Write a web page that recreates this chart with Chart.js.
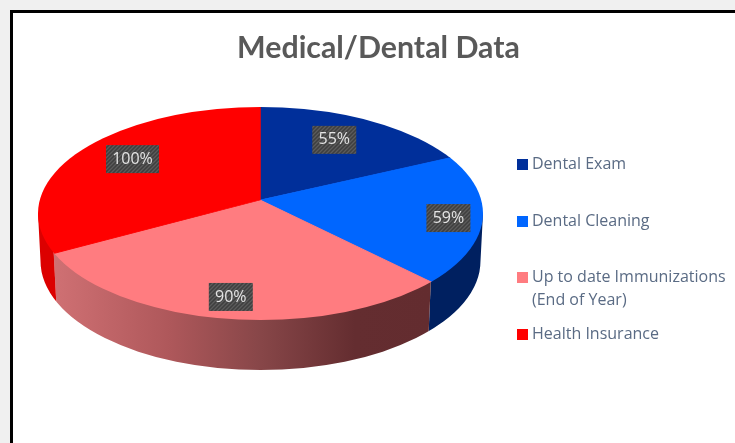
<!DOCTYPE html>
<html>
<head>
<meta charset="utf-8">
<title>Medical/Dental Data</title>
<script src="https://cdn.jsdelivr.net/npm/chart.js@4"></script>
<style>
  html, body { margin: 0; padding: 0; background: #f0f0f0; overflow: hidden; }
  #marco { position: absolute; left: 10px; top: 10px; width: 800px; height: 600px; background: #fff; border: 3px solid #000; }
  #grafica { position: absolute; left: 0; top: 0; filter: blur(0.45px); }
</style>
</head>
<body>
<div id="marco"></div>
<canvas id="grafica" width="735" height="443"></canvas>
<script>
const categories = ["Dental Exam", "Dental Cleaning", ["Up to date Immunizations", "(End of Year)"], "Health Insurance"];
const percents = [55, 59, 90, 100];
const topColors = ["#002f9a", "#0066ff", "#ff7c80", "#ff0000"];

// look of the tilted pie
const apex = { x: 260, y: 200 };
const topFace = { x: 260.5, y: 213.5, rx: 222.5, ry: 106.5 };
const bottomFace = { x: 260.5, y: 261, rx: 220, ry: 109 };
const labelSpots = [[0.62, 0.67], [0.86, 0.97], [0.91, 0.92], [0.667, 0.75]];
const legendRows = [164.5, 221.5, 277.5, 334.5];

function rimPoint(a) {
    const d = (topFace.y - apex.y) / topFace.ry;
    const s = Math.sin(a), c = Math.cos(a);
    const t = d * s + Math.sqrt(d * d * s * s - d * d + 1);
    return { x: apex.x + topFace.rx * c * t, y: apex.y + topFace.ry * s * t };
}

function wallFill(ctx, i) {
    if (i === 0) return "#002060";
    if (i === 1) return "#002060";
    if (i === 3) return "#dc0000";
    const g = ctx.createLinearGradient(55, 0, 430, 0);
    g.addColorStop(0, "#cf7073");
    g.addColorStop(0.3, "#af585b");
    g.addColorStop(0.55, "#874648");
    g.addColorStop(0.8, "#642d30");
    g.addColorStop(1, "#632c2f");
    return g;
}

function drawWalls(ctx, arcs) {
    arcs.forEach((arc, i) => {
        if (arc.endAngle <= 0 || arc.startAngle >= Math.PI) return;
        // edges of the visible wall, they lean a little inward going down
        const right = arc.startAngle <= 0 ? null : rimPoint(arc.startAngle);
        const left = arc.endAngle >= Math.PI ? null : rimPoint(arc.endAngle);
        const edge = (p, fallback) => {
            if (!p) return [[fallback, 0], [fallback, 443]];
            const lean = (p.x - topFace.x) * 0.012 / 48;
            return [[p.x + lean * p.y, 0], [p.x - lean * (443 - p.y), 443]];
        };
        const r = edge(right, 735), l = edge(left, 0);
        ctx.save();
        ctx.beginPath();
        ctx.moveTo(r[0][0], r[0][1]);
        ctx.lineTo(r[1][0], r[1][1]);
        ctx.lineTo(l[1][0], l[1][1]);
        ctx.lineTo(l[0][0], l[0][1]);
        ctx.closePath();
        ctx.clip();
        ctx.beginPath();
        ctx.moveTo(topFace.x + topFace.rx, topFace.y);
        ctx.lineTo(bottomFace.x + bottomFace.rx, bottomFace.y);
        ctx.ellipse(bottomFace.x, bottomFace.y, bottomFace.rx, bottomFace.ry, 0, 0, Math.PI);
        ctx.lineTo(topFace.x - topFace.rx, topFace.y);
        ctx.closePath();
        ctx.fillStyle = wallFill(ctx, i);
        ctx.fill();
        ctx.restore();
    });
}

function hatch(ctx) {
    const c = document.createElement("canvas");
    c.width = c.height = 4;
    const p = c.getContext("2d");
    p.fillStyle = "#3f3f3f";
    p.fillRect(0, 0, 4, 4);
    p.strokeStyle = "#5c5c5c";
    p.lineWidth = 1.3;
    p.beginPath();
    p.moveTo(-1, 1); p.lineTo(1, -1);
    p.moveTo(-1, 5); p.lineTo(5, -1);
    p.moveTo(3, 5); p.lineTo(5, 3);
    p.stroke();
    return ctx.createPattern(c, "repeat");
}

const pie3d = {
    id: "pie3d",
    beforeDatasetsDraw(chart) {
        const ctx = chart.ctx;
        const arcs = chart.getDatasetMeta(0).data;
        drawWalls(ctx, arcs);
        // the flat pie gets squashed onto the top face, apex off-centre
        const k = 1.25 / arcs[0].outerRadius;
        ctx.save();
        ctx.beginPath();
        ctx.ellipse(topFace.x, topFace.y, topFace.rx, topFace.ry, 0, 0, Math.PI * 2);
        ctx.clip();
        ctx.translate(apex.x, apex.y);
        ctx.scale(topFace.rx * k, topFace.ry * k);
        ctx.translate(-arcs[0].x, -arcs[0].y);
    },
    afterDatasetsDraw(chart) {
        const ctx = chart.ctx;
        ctx.restore();
        const arcs = chart.getDatasetMeta(0).data;

        // value labels
        const fill = hatch(ctx);
        ctx.font = '16px "Open Sans"';
        ctx.textAlign = "center";
        ctx.textBaseline = "middle";
        arcs.forEach((arc, i) => {
            const a = (arc.startAngle + arc.endAngle) / 2;
            const x = apex.x + topFace.rx * Math.cos(a) * labelSpots[i][0];
            const y = apex.y + topFace.ry * Math.sin(a) * labelSpots[i][1];
            const text = percents[i] + "%";
            const w = percents[i] === 100 ? 53 : 44;
            ctx.fillStyle = fill;
            ctx.fillRect(x - w / 2, y - 14, w, 28);
            ctx.fillStyle = "#e4e4e4";
            ctx.fillText(text, x, y);
        });

        // legend, rows are not evenly spaced in the original
        ctx.textAlign = "left";
        ctx.font = '16px "Open Sans"';
        categories.forEach((name, i) => {
            ctx.fillStyle = topColors[i];
            ctx.fillRect(517, Math.round(legendRows[i]) - 6, 11, 11);
            ctx.fillStyle = "#5a6b84";
            [].concat(name).forEach((line, n) => {
                ctx.fillText(line, 532, legendRows[i] + n * 23);
            });
        });
    }
};

new Chart(document.getElementById("grafica"), {
    type: "pie",
    data: {
        labels: categories,
        datasets: [{
            data: percents,
            backgroundColor: topColors,
            borderColor: topColors,
            borderWidth: 1
        }]
    },
    options: {
        responsive: false,
        animation: false,
        layout: { padding: { left: 22 } },
        plugins: {
            legend: { display: false },
            tooltip: { enabled: false },
            title: {
                display: true,
                text: "Medical/Dental Data",
                color: "#595959",
                font: { family: "Lato", size: 30.3, weight: "bold" },
                padding: { top: 30, bottom: 10 }
            }
        }
    },
    plugins: [pie3d]
});
</script>
</body>
</html>
